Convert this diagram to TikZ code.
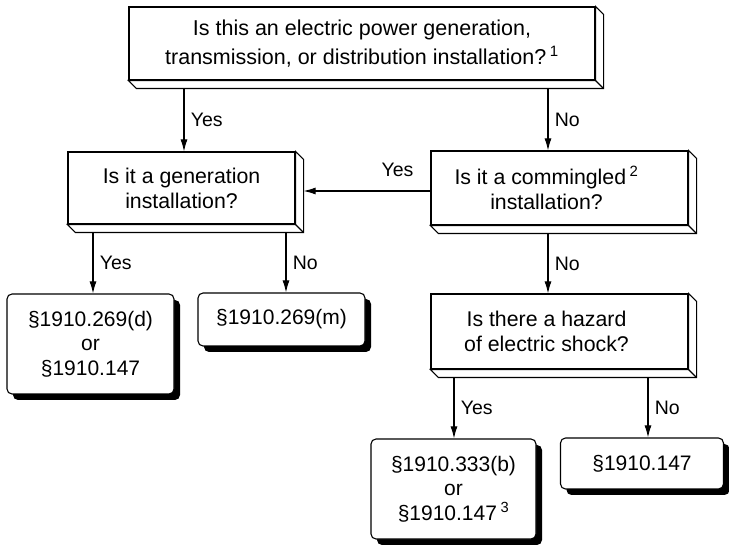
\documentclass[tikz,border=0pt]{standalone}
\usepackage{fontspec}
\setmainfont{Liberation Sans}
\usetikzlibrary{arrows.meta}

\begin{document}
\begin{tikzpicture}[x=1pt,y=-1pt,line width=1.1pt,>={Latex[length=12pt,width=7pt]},
  quest/.style={draw,fill=white,align=center,inner sep=0pt,font=\fontsize{21.3}{25}\selectfont},
  answer/.style={draw,fill=white,align=center,inner sep=0pt,rounded corners=5pt,
    font=\fontsize{21}{24.5}\selectfont,
    preaction={fill=black,transform canvas={shift={(6pt,-6pt)}}}},
  lbl/.style={font=\fontsize{19.5}{22}\selectfont}]
\useasboundingbox (0,0) rectangle (729,545);

% questions
\node[quest,minimum width=466,minimum height=73,font=\fontsize{21.5}{29}\selectfont] (elec) at (362,43.5)
  {Is this an electric power generation,\\ transmission, or distribution installation?\,\textsuperscript{1}};
\node[quest,minimum width=227,minimum height=72] (gen) at (181.5,188)
  {Is it a generation\\ installation?};
\node[quest,minimum width=257,minimum height=74] (comm) at (559.5,188)
  {Is it a commingled\,\textsuperscript{2}\hspace*{26pt}\\ installation?\hspace*{26pt}};
\node[quest,minimum width=257,minimum height=75] (shock) at (559.5,331.5)
  {Is there a hazard\hspace*{26pt}\\ of electric shock?\hspace*{26pt}};

\foreach \q in {elec,gen,comm,shock}{
  \draw[fill=white] (\q.north east) -- ++(8,8) -- ([shift={(8,8)}]\q.south east)
    -- ([shift={(8,8)}]\q.south west) -- (\q.south west) -- (\q.south east) -- cycle;
  \draw (\q.south east) -- ++(8,8);
}

% answers
\node[answer,minimum width=167,minimum height=100] (d269) at (90.5,344)
  {§1910.269(d)\\ or\\ §1910.147};
\node[answer,minimum width=167,minimum height=53] (m269) at (281.5,319.5)
  {§1910.269(m)};
\node[answer,minimum width=165,minimum height=100] (b333) at (453.5,489)
  {§1910.333(b)\\ or\\ §1910.147\,\textsuperscript{3}};
\node[answer,minimum width=163,minimum height=51] (s147) at (642,463.5)
  {§1910.147};

% arrows
\coordinate (c1) at (184,0);
\coordinate (c2) at (548,0);
\coordinate (c5) at (93,0);
\coordinate (c6) at (286,0);
\coordinate (c7) at (454,0);
\coordinate (c8) at (648,0);
\coordinate (h) at (0,191);
\coordinate (genr) at ([xshift=8pt]gen.east);

\draw[->] (elec.south -| c1) ++(0,8) -- (gen.north -| c1) node[lbl,midway,right=3pt] {Yes};
\draw[->] (elec.south -| c2) ++(0,8) -- (comm.north -| c2) node[lbl,midway,right=3pt] {No};
\draw[->] (comm.west |- h) -- (genr |- h) node[lbl,pos=0.26,above=10pt] {Yes};
\draw[->] (comm.south -| c2) ++(0,8) -- (shock.north -| c2) node[lbl,midway,right=3pt] {No};
\draw[->] (gen.south -| c5) ++(0,8) -- (d269.north -| c5) node[lbl,midway,right=3pt] {Yes};
\draw[->] (gen.south -| c6) ++(0,8) -- (m269.north -| c6) node[lbl,midway,right=3pt] {No};
\draw[->] (shock.south -| c7) ++(0,8) -- (b333.north -| c7) node[lbl,midway,right=3pt] {Yes};
\draw[->] (shock.south -| c8) ++(0,8) -- (s147.north -| c8) node[lbl,midway,right=3pt] {No};
\end{tikzpicture}
\end{document}
